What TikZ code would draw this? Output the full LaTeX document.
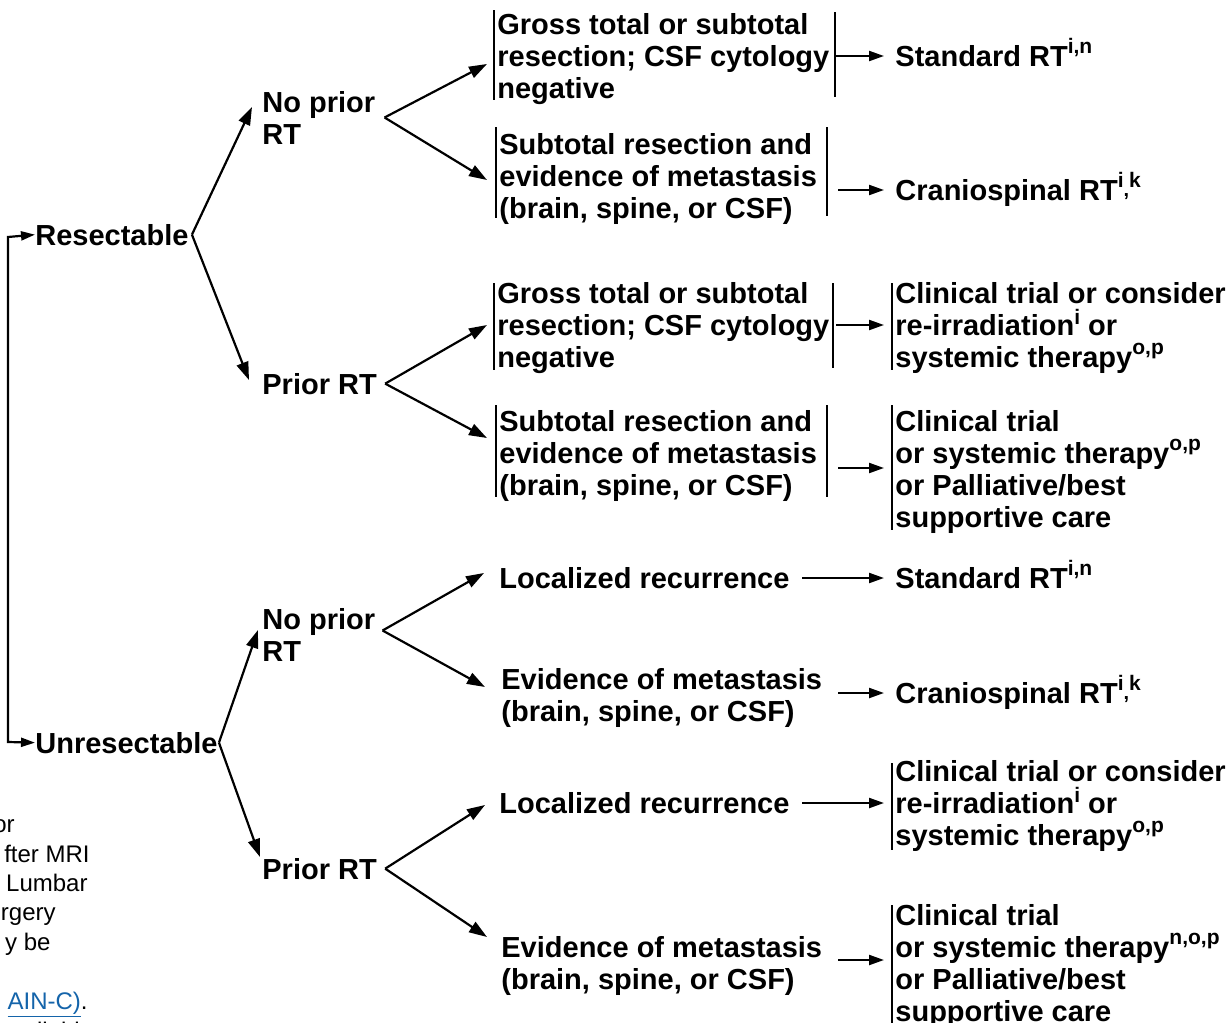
\documentclass[tikz,border=0pt]{standalone}
\usepackage{fontspec}
\setmainfont{Liberation Sans}
\usetikzlibrary{arrows.meta}
\definecolor{linkblue}{RGB}{20,100,170}
% footnote-style markers after the bold labels
\newcommand{\sps}[1]{\raisebox{6.5pt}{\fontsize{10.5}{10.5}\selectfont\bfseries #1}}
\newcommand{\spsl}[1]{\raisebox{5.5pt}{\fontsize{10.5}{10.5}\selectfont\bfseries #1}}
\newcommand{\supik}{\sps{i}\raisebox{2pt}{\fontsize{10}{10}\selectfont\bfseries ,}\sps{k}}
\begin{document}
\setlength{\lineskiplimit}{-20pt}
% multi-line labels are placed by the baseline of their last line
\begin{tikzpicture}[x=0.5pt,y=-0.5pt,
  lbl/.style={inner sep=0pt, anchor=base west, align=left,
    font={\fontsize{14.5}{16}\selectfont\bfseries}},
  note/.style={inner sep=0pt, anchor=base east, font={\fontsize{12}{14.75}\selectfont}},
  wire/.style={line width=1.1pt},
  fork/.style={wire, -{Triangle[length=9pt,width=6pt]}},
  pass/.style={wire, -{Triangle[length=7.5pt,width=5pt]}, shorten >=5.5pt},
  feed/.style={wire, {Triangle[length=7pt,width=4.5pt]}-{Triangle[length=7pt,width=4.5pt]}},
  bar/.style={line width=1pt},
]
\useasboundingbox (0,0) rectangle (1232,1023);

% ---- first level
\node[lbl] (res) at (35,245) {Resectable};
\node[lbl] (unres) at (35,753) {Unresectable};

% ---- second level
\node[lbl] (np1) at (262,144) {No prior\\RT};
\node[lbl] (pr1) at (262,394) {Prior RT};
\node[lbl] (np2) at (262,661) {No prior\\RT};
\node[lbl] (pr2) at (262,879) {Prior RT};

% ---- third level
\node[lbl] (b1) at (497,98) {Gross total or subtotal\\resection; CSF cytology\\negative};
\node[lbl] (b2) at (499,218) {Subtotal resection and\\evidence of metastasis\\(brain, spine, or CSF)};
\node[lbl] (b3) at (497,367) {Gross total or subtotal\\resection; CSF cytology\\negative};
\node[lbl] (b4) at (499,495) {Subtotal resection and\\evidence of metastasis\\(brain, spine, or CSF)};
\node[lbl] (lr1) at (499,588) {Localized recurrence};
\node[lbl] (em1) at (501,721) {Evidence of metastasis\\(brain, spine, or CSF)};
\node[lbl] (lr2) at (499,813) {Localized recurrence};
\node[lbl] (em2) at (501,989) {Evidence of metastasis\\(brain, spine, or CSF)};

% ---- outcomes
\node[lbl] (o1) at (895,66) {Standard RT\sps{i,n}};
\node[lbl] (o2) at (895,200) {Craniospinal RT\supik};
\node[lbl] (o3) at (895,367) {Clinical trial or consider\\re-irradiation\spsl{i} or\\systemic therapy\sps{o,p}};
\node[lbl] (o4) at (895,527) {Clinical trial\\or systemic therapy\sps{o,p}\\or Palliative/best\\supportive care};
\node[lbl] (o5) at (895,588) {Standard RT\sps{i,n}};
\node[lbl] (o6) at (895,703) {Craniospinal RT\supik};
\node[lbl] (o7) at (895,845) {Clinical trial or consider\\re-irradiation\spsl{i} or\\systemic therapy\sps{o,p}};
\node[lbl] (o8) at (895,1021) {Clinical trial\\or systemic therapy\sps{n,o,p}\\or Palliative/best\\supportive care};

% ---- side bars of the bracketed blocks
\draw[bar] (494,10) -- (494,100);  \draw[bar] (835,12) -- (835,97);
\draw[bar] (496,127) -- (496,218); \draw[bar] (827,127) -- (827,216);
\draw[bar] (494,283) -- (494,370); \draw[bar] (833,283) -- (833,368);
\draw[bar] (496,405) -- (496,497); \draw[bar] (827,405) -- (827,497);
\draw[bar] (892,283) -- (892,370);
\draw[bar] (892,405) -- (892,530);
\draw[bar] (892,763) -- (892,850);
\draw[bar] (892,905) -- (892,1023);

% ---- feed bracket on the left
\coordinate (topc) at (8,237);
\coordinate (botc) at (8,742);
\draw[feed] (res.west) -- (topc) -- (botc) -- (unres.west);

% ---- fork ends
\coordinate (t-np1) at (252,107);
\coordinate (t-pr1) at (249,380);
\coordinate (t-np2) at (258,630);
\coordinate (t-pr2) at (260,857);
\coordinate (t-b1) at (487,64);
\coordinate (t-b2) at (487,180);
\coordinate (t-b3) at (487,325);
\coordinate (t-b4) at (487,438);
\coordinate (t-lr1) at (484,573);
\coordinate (t-em1) at (485,687);
\coordinate (t-lr2) at (485,805);
\coordinate (t-em2) at (487,937);

\draw[fork] ([xshift=1.5pt]res.east) -- (t-np1);
\draw[fork] ([xshift=1.5pt]res.east) -- (t-pr1);
\draw[fork] ([xshift=0.5pt]unres.east) -- (t-np2);
\draw[fork] ([xshift=0.5pt]unres.east) -- (t-pr2);

\draw[fork] ([xshift=4.5pt]np1.east) -- (t-b1);
\draw[fork] ([xshift=4.5pt]np1.east) -- (t-b2);
\draw[fork] ([xshift=4pt]pr1.east) -- (t-b3);
\draw[fork] ([xshift=4pt]pr1.east) -- (t-b4);
\draw[fork] ([xshift=3.5pt,yshift=2pt]np2.east) -- (t-lr1);
\draw[fork] ([xshift=3.5pt,yshift=2pt]np2.east) -- (t-em1);
\draw[fork] ([xshift=4pt]pr2.east) -- (t-lr2);
\draw[fork] ([xshift=4pt]pr2.east) -- (t-em2);

% ---- passes to the outcomes
\coordinate (s-b1) at (835,56);
\coordinate (s-b2) at (838,190);
\coordinate (s-b3) at (836,325);
\coordinate (s-b4) at (838,468);
\coordinate (s-lr1) at (802,578);
\coordinate (s-em1) at (838,693);
\coordinate (s-lr2) at (802,803);
\coordinate (s-em2) at (838,960);
\draw[pass] (s-b1) -- (s-b1 -| o1.west);
\draw[pass] (s-b2) -- (s-b2 -| o2.west);
\draw[pass] (s-b3) -- (s-b3 -| o3.west);
\draw[pass] (s-b4) -- (s-b4 -| o4.west);
\draw[pass] (s-lr1) -- (s-lr1 -| o5.west);
\draw[pass] (s-em1) -- (s-em1 -| o6.west);
\draw[pass] (s-lr2) -- (s-lr2 -| o7.west);
\draw[pass] (s-em2) -- (s-em2 -| o8.west);

% ---- notes at the lower left edge
\node[note] (f1) at (15,832) {or};
\node[note] (f2) at (90,862) {fter MRI};
\node[note] (f3) at (88,891) {Lumbar};
\node[note] (f4) at (56,920) {rgery};
\node[note] (f5) at (51,950) {y be};
\node[note] (f6) at (88,1009) {\textcolor{linkblue}{\underline{AIN-C)}}.};
\node[note, anchor=base west] (f7) at (-2,1039) {available};
\end{tikzpicture}
\end{document}
